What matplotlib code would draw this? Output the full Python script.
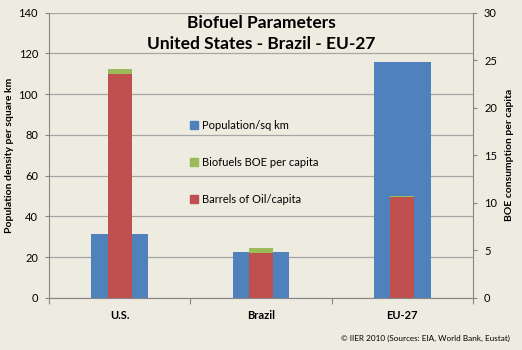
import numpy as np
import matplotlib
matplotlib.use("Agg")
from matplotlib import pyplot as plt
from matplotlib import patches as mpatches

# data
regions = ["U.S.", "Brazil", "EU-27"]
population_sq_km = [31.3, 22.7, 115.8]
barrels_oil_capita = [23.5, 4.7, 10.6]
biofuels_boe_capita = [0.6, 0.5, 0.1]

BLUE = "#4F81BD"
RED = "#C0504D"
GREEN = "#9BBB59"
BG = "#EEECE1"

plt.rcParams['font.family'] = ['Lato', 'DejaVu Sans']

fig = plt.figure(figsize=(5.22, 3.5), dpi=100, facecolor=BG)
ax = fig.add_axes([0.094, 0.149, 0.812, 0.815])
ax.set_facecolor(BG)
ax2 = ax.twinx()

x = np.arange(len(regions))

# population on left axis
ax.bar(x, population_sq_km, width=0.40, color=BLUE, zorder=2)
ax.set_ylim(0, 140)
ax.set_yticks(range(0, 141, 20))
ax.set_xlim(-0.5, 2.5)
ax.yaxis.grid(True, color="#A6A6A6", linewidth=0.9, zorder=0)
ax.set_axisbelow(True)

# oil + biofuel stacked on right axis
ax2.bar(x, barrels_oil_capita, width=0.17, color=RED, zorder=3)
ax2.bar(x, biofuels_boe_capita, width=0.17, bottom=barrels_oil_capita,
        color=GREEN, zorder=3)
ax2.set_ylim(0, 30)
ax2.set_yticks(range(0, 31, 5))

# x ticks at category boundaries, labels at centers
ax.set_xticks([-0.5, 0.5, 1.5, 2.5])
ax.set_xticklabels([])
ax.set_xticks(x, minor=True)
ax.set_xticklabels(regions, minor=True, fontsize=8, fontweight="bold")
ax.tick_params(axis="x", which="minor", length=0, pad=9)
ax.tick_params(axis="x", which="major", length=4, color="#868686")

for a in (ax, ax2):
    for s in a.spines.values():
        s.set_visible(False)
    a.tick_params(axis="y", labelsize=8, length=3, color="#868686", pad=5)
ax.spines["bottom"].set_visible(True)
ax.spines["bottom"].set_color("#868686")
ax.spines["left"].set_visible(True)
ax.spines["left"].set_color("#868686")
ax2.spines["right"].set_visible(True)
ax2.spines["right"].set_color("#868686")

ax.set_ylabel("Population density per square km", fontsize=7.5,
              fontweight="bold", labelpad=3)
ax2.set_ylabel("BOE consumption per capita", fontsize=7.5,
               fontweight="bold", labelpad=6)

fig.text(0.5, 0.958, "Biofuel Parameters\nUnited States - Brazil - EU-27",
         ha="center", va="top", fontsize=12.5, fontweight="bold",
         linespacing=1.42)

blue_patch = mpatches.Patch(color=BLUE, label="Population/sq km")
green_patch = mpatches.Patch(color=GREEN, label="Biofuels BOE per capita")
red_patch = mpatches.Patch(color=RED, label="Barrels of Oil/capita")
leg = ax.legend(handles=[blue_patch, green_patch, red_patch],
                loc="upper left", bbox_to_anchor=(0.31, 0.66),
                frameon=False, fontsize=8, labelspacing=2.35,
                handlelength=0.7, handleheight=0.7, handletextpad=0.3)
leg.set_zorder(5)

fig.text(0.977, 0.034, "© IIER 2010 (Sources: EIA, World Bank, Eustat)",
         ha="right", va="center", fontsize=5.9)

fig.savefig("out.png", dpi=100, facecolor=BG)
